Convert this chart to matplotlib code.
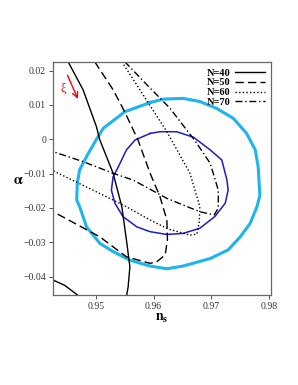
import matplotlib
matplotlib.use("Agg")
import matplotlib.pyplot as plt

plt.rcParams['font.family'] = ['Liberation Serif', 'DejaVu Serif']
plt.rcParams['mathtext.fontset'] = 'stix'

# 2-sigma contour (light blue)
ns_2s = [0.9594, 0.9550, 0.9513, 0.9504, 0.9487, 0.9472, 0.9468, 0.9467, 0.9472, 0.9484,
         0.9507, 0.9530, 0.9559, 0.9594, 0.9623, 0.9651, 0.9698, 0.9729, 0.9750, 0.9767,
         0.9779, 0.9784, 0.9781, 0.9776, 0.9761, 0.9738, 0.9709, 0.9680, 0.9651, 0.9617, 0.9594]
al_2s = [0.0107, 0.0080, 0.0032, 0.0008, -0.0041, -0.0089, -0.0128, -0.0177, -0.0196, -0.0255,
         -0.0303, -0.0327, -0.0352, -0.0369, -0.0377, -0.0369, -0.0347, -0.0322, -0.0284, -0.0245,
         -0.0196, -0.0163, -0.0080, -0.0031, 0.0017, 0.0061, 0.0090, 0.0110, 0.0119, 0.0117, 0.0107]

# 1-sigma contour (dark blue)
ns_1s = [0.9594, 0.9568, 0.9553, 0.9539, 0.9530, 0.9527, 0.9533, 0.9547, 0.9571, 0.9594, 0.9623,
         0.9651, 0.9680, 0.9706, 0.9724, 0.9729, 0.9727, 0.9718, 0.9698, 0.9669, 0.9640, 0.9611, 0.9594]
al_1s = [0.0017, -0.0002, -0.0031, -0.0080, -0.0109, -0.0148, -0.0186, -0.0225, -0.0255, -0.0269, -0.0277,
         -0.0274, -0.0259, -0.0225, -0.0186, -0.0148, -0.0119, -0.0060, -0.0031, 0.0006, 0.0022, 0.0022, 0.0017]

# N = 40 (solid)
ns_40 = [0.9452, 0.9478, 0.9501, 0.9507, 0.9530, 0.9545, 0.9553, 0.9559, 0.9556, 0.9553]
al_40 = [0.0226, 0.0144, 0.0037, -0.0002, -0.0099, -0.0196, -0.0293, -0.0371, -0.0429, -0.0458]
ns_40b = [0.9420, 0.9446, 0.9472]
al_40b = [-0.0405, -0.0425, -0.0458]

# N = 50 (dashed)
ns_50 = [0.9498, 0.9530, 0.9550, 0.9573, 0.9594, 0.9611, 0.9623, 0.9624, 0.9620, 0.9605,
         0.9594, 0.9553, 0.9507, 0.9432, 0.9420]
al_50 = [0.0226, 0.0144, 0.0080, -0.0002, -0.0099, -0.0167, -0.0235, -0.0293, -0.0337, -0.0357,
         -0.0361, -0.0342, -0.0284, -0.0216, -0.0206]

# N = 60 (dotted)
ns_60 = [0.9545, 0.9582, 0.9623, 0.9663, 0.9680, 0.9679, 0.9675, 0.9663, 0.9625, 0.9594,
         0.9547, 0.9495, 0.9429, 0.9420]
al_60 = [0.0226, 0.0129, 0.0022, -0.0099, -0.0196, -0.0241, -0.0276, -0.0279, -0.0261, -0.0235,
         -0.0191, -0.0148, -0.0094, -0.0088]

# N = 70 (dash-dot)
ns_70 = [0.9550, 0.9594, 0.9628, 0.9672, 0.9698, 0.9712, 0.9712, 0.9705, 0.9680, 0.9623,
         0.9565, 0.9530, 0.9478, 0.9426, 0.9420]
al_70 = [0.0226, 0.0149, 0.0091, -0.0005, -0.0070, -0.0148, -0.0200, -0.0220, -0.0211, -0.0172,
         -0.0119, -0.0099, -0.0065, -0.0036, -0.0033]

xticks = [0.95, 0.96, 0.97, 0.98]
yticks = [0.02, 0.01, 0, -0.01, -0.02, -0.03, -0.04]

fig = plt.figure(figsize=(2.98, 3.85), dpi=100)
ax = fig.add_axes([0.178, 0.234, 0.731, 0.605])

ax.plot(ns_2s, al_2s, color='#1eb4ec', lw=2.2)
ax.plot(ns_1s, al_1s, color='#1c1cc8', lw=1.1)

l40, = ax.plot(ns_40, al_40, color='black', lw=1.0, label='N=40')
ax.plot(ns_40b, al_40b, color='black', lw=1.0)
l50, = ax.plot(ns_50, al_50, color='black', lw=1.0, linestyle=(0, (6, 3)), label='N=50')
l60, = ax.plot(ns_60, al_60, color='black', lw=1.0, linestyle=(0, (1, 1.6)), label='N=60')
l70, = ax.plot(ns_70, al_70, color='black', lw=1.0, linestyle=(0, (5, 2, 1, 2)), label='N=70')

ax.set_xlim(0.9426, 0.9803)
ax.set_ylim(-0.0453, 0.0225)
ax.set_xticks(xticks)
ax.set_yticks(yticks)
ax.set_xticklabels(['0.95', '0.96', '0.97', '0.98'])
ax.set_yticklabels(['0.02', '0.01', '0', '\u22120.01', '\u22120.02', '\u22120.03', '\u22120.04'])
ax.tick_params(direction='out', length=3, width=0.7, color='#555555',
               labelsize=7, labelcolor='#333333', pad=2)
for s in ax.spines.values():
    s.set_color('#666666')
    s.set_linewidth(0.9)

ax.set_xlabel(r'$\mathbf{n_s}$', fontsize=10)
ax.xaxis.set_label_coords(0.5, -0.075)
ax.set_ylabel(r'$\mathbf{\alpha}$', fontsize=10, rotation=0, va='center')
ax.yaxis.set_label_coords(-0.16, 0.49)

ax.annotate('', xy=(0.9471, 0.0110), xytext=(0.9449, 0.0194),
            arrowprops=dict(arrowstyle='->', color='red', lw=1.0))
ax.text(0.9443, 0.0149, '\u03be', color='red', fontsize=9, ha='center', va='center')

leg = ax.legend(handles=[l40, l50, l60, l70], loc='upper right', frameon=False,
                markerfirst=False, handlelength=2.8, handletextpad=0.5,
                labelspacing=0.05, borderaxespad=0.4, borderpad=0.2,
                prop={'weight': 'bold', 'size': 7.5})

fig.savefig('out.png', dpi=100)
